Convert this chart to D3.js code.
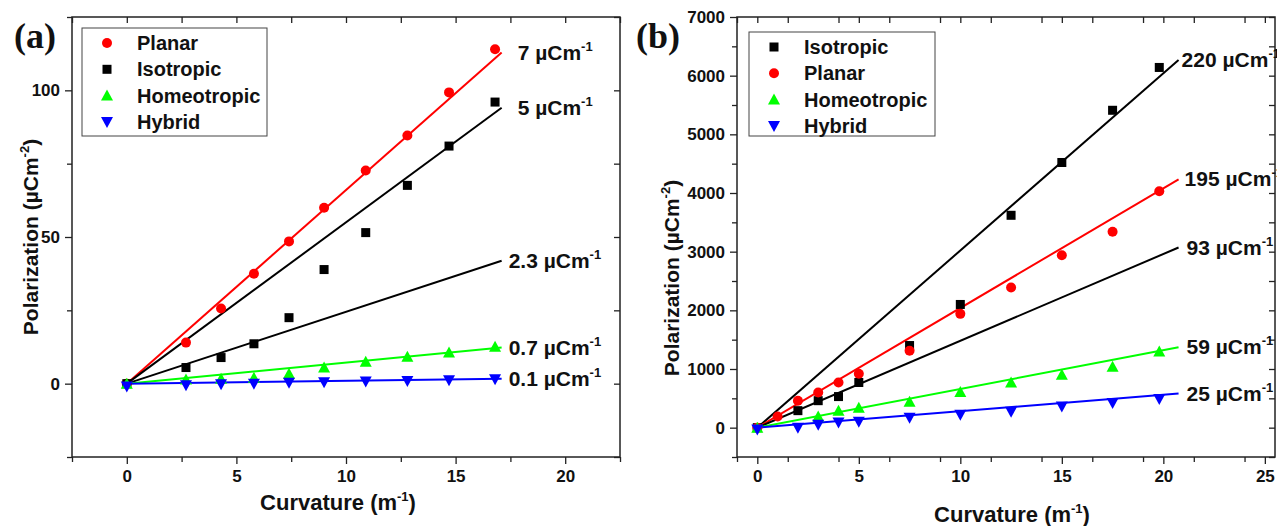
<!DOCTYPE html>
<html lang="en">
  <head>
    <title>polarization vs curvature</title>
    <meta charset="utf-8">
    <style>
      body { margin: 0; background: white; }
      text { font-family: "Liberation Sans", Arial, sans-serif; font-weight: bold; }
      .tick text { font-size: 17px; }
      .panel { font-family: "Liberation Serif", "Times New Roman", serif; font-size: 36px; }
    </style>
    <script src="https://d3js.org/d3.v7.min.js"></script>
  </head>
  <body>
    <script>

    // ---- panel (a) data ----
    var xA = [0, 2.7, 4.3, 5.8, 7.4, 9.0, 10.9, 12.8, 14.7, 16.8];
    var planarA = [0, 14, 25.6, 37.5, 48.5, 60, 72.7, 84.6, 99.3, 114];
    var isoA = [0, 5.5, 8.9, 13.6, 22.5, 38.9, 51.5, 67.6, 81, 96];
    var homeoA = [0, 1.4, 1.7, 2, 3.4, 5.5, 7.5, 9.2, 10.6, 12.6];
    var hybridA = [-1, -0.5, -0.2, 0, 0.3, 0.5, 0.7, 0.9, 1.2, 1.5];
    // fitted lines: slope, colour key, label
    var fitsA = [
      {slope: 6.6, c: "red", label: "7 \u00b5Cm"},
      {slope: 5.5, c: "black", label: "5 \u00b5Cm"},
      {slope: 2.45, c: "black", label: "2.3 \u00b5Cm"},
      {slope: 0.72, c: "lime", label: "0.7 \u00b5Cm"},
      {slope: 0.1, c: "blue", label: "0.1 \u00b5Cm"}
    ];
    var fitEndA = 17.1;
    var labelGapA = [16, 16, 7, 7, 7];

    // ---- panel (b) data ----
    var xB = [0, 1, 2, 3, 4, 5, 7.5, 10, 12.5, 15, 17.5, 19.8];
    var isoB = [0, null, 290, 460, 530, 770, 1400, 2100, 3620, 4520, 5410, 6140];
    var planarB = [0, 190, 460, 600, 770, 920, 1310, 1940, 2390, 2940, 3340, 4030];
    var homeoB = [0, null, null, 190, 290, 340, 440, 610, 770, 900, 1040, 1300];
    var hybridB = [-30, null, 0, 50, 90, 100, 170, 220, 270, 360, 420, 490];
    var fitsB = [
      {slope: 302, c: "black", label: "220 \u00b5Cm"},
      {slope: 204, c: "red", label: "195 \u00b5Cm"},
      {slope: 148, c: "black", label: "93 \u00b5Cm"},
      {slope: 66, c: "lime", label: "59 \u00b5Cm"},
      {slope: 28, c: "blue", label: "25 \u00b5Cm"}
    ];
    var fitEndB = 20.75;
    var labelGapB = [3, 6, 8, 8, 8];

    var colors = {red: "#ff0000", black: "#000000", lime: "#00ff00", blue: "#0000ff"};

    var svg = d3.select("body").append("svg")
                .attr("width", 1277)
                .attr("height", 526);

    function symbol(g, type, color, x, y) {
      if (type == "circle") {
        g.append("circle").attr("cx", x).attr("cy", y).attr("r", 5).attr("fill", color);
      } else if (type == "square") {
        g.append("rect").attr("x", x - 4.5).attr("y", y - 4.5).attr("width", 9).attr("height", 9).attr("fill", color);
      } else if (type == "up") {
        g.append("path").attr("d", "M" + x + "," + (y - 6) + "L" + (x + 6) + "," + (y + 5) + "L" + (x - 6) + "," + (y + 5) + "Z").attr("fill", color);
      } else {
        g.append("path").attr("d", "M" + x + "," + (y + 6) + "L" + (x + 6) + "," + (y - 5) + "L" + (x - 6) + "," + (y - 5) + "Z").attr("fill", color);
      }
    }

    function drawPanel(o) {
      var g = svg.append("g");
      var x = d3.scaleLinear().domain(o.xDomain).range([o.left, o.right]);
      var y = d3.scaleLinear().domain(o.yDomain).range([o.bottom, o.top]);

      // box
      g.append("rect").attr("x", o.left).attr("y", o.top)
       .attr("width", o.right - o.left).attr("height", o.bottom - o.top)
       .attr("fill", "none").attr("stroke", "#222").attr("stroke-width", 1.5);

      var xMinor = d3.range(o.xDomain[0], o.xDomain[1] + 0.01, o.xStep / 2).filter(function(v){ return Math.abs(v / o.xStep - Math.round(v / o.xStep)) > 0.01; });
      var yMinor = d3.range(o.yDomain[0], o.yDomain[1] + 0.01, o.yStep / 2).filter(function(v){ return Math.abs(v / o.yStep - Math.round(v / o.yStep)) > 0.01; });

      g.append("g").attr("transform", "translate(0," + o.bottom + ")")
                .call(d3.axisBottom(x).tickValues(o.xTicks).tickFormat(d3.format("d")).tickSize(7).tickPadding(6));
      g.append("g").attr("transform", "translate(0," + o.bottom + ")")
                .call(d3.axisBottom(x).tickValues(xMinor).tickFormat("").tickSize(5));
      g.append("g").attr("transform", "translate(0," + o.top + ")")
                .call(d3.axisBottom(x).tickValues(o.xTicks.concat(xMinor)).tickFormat("").tickSize(6));
      g.append("g").attr("transform", "translate(" + o.left + ",0)")
                .call(d3.axisLeft(y).tickValues(o.yTicks).tickFormat(d3.format("d")).tickSize(7).tickPadding(5));
      g.append("g").attr("transform", "translate(" + o.left + ",0)")
                .call(d3.axisLeft(y).tickValues(yMinor).tickFormat("").tickSize(5));
      g.append("g").attr("transform", "translate(" + o.right + ",0)")
                .call(d3.axisLeft(y).tickValues(o.yTicks.concat(yMinor)).tickFormat("").tickSize(6));
      g.selectAll(".domain").remove();
      g.selectAll(".tick line").attr("stroke", "#222").attr("stroke-width", 1.3);
      g.selectAll(".tick text").attr("fill", "#111");

      // fitted lines
      o.fits.forEach(function(f, i) {
        g.append("line")
         .attr("x1", x(0)).attr("y1", y(0))
         .attr("x2", x(o.fitEnd)).attr("y2", y(f.slope * o.fitEnd))
         .attr("stroke", colors[f.c]).attr("stroke-width", 2);
        var t = g.append("text")
         .attr("x", x(o.fitEnd) + o.gaps[i]).attr("y", y(f.slope * o.fitEnd) + 7)
         .attr("font-size", 21).attr("fill", "#111")
         .text(f.label);
        t.append("tspan").attr("dy", -9).attr("font-size", 13).text("-1");
      });

      // points
      o.series.forEach(function(s) {
        s.vals.forEach(function(v, i) {
          if (v === null) return;
          symbol(g, s.shape, colors[s.c], x(o.xs[i]), y(v));
        });
      });

      // legend
      g.append("rect").attr("x", o.leg[0]).attr("y", o.leg[1]).attr("width", o.leg[2]).attr("height", o.leg[3])
       .attr("fill", "white").attr("stroke", "#444").attr("stroke-width", 1);
      o.series.forEach(function(s, i) {
        var ly = o.leg[1] + 15 + i * 26.3;
        symbol(g, s.shape, colors[s.c], o.leg[0] + 25, ly);
        g.append("text").attr("x", o.leg[0] + 55).attr("y", ly + 7)
         .attr("font-size", 20).attr("fill", "#111").text(s.name);
      });

      // axis titles
      var xt = g.append("text").attr("x", o.xTitle[0]).attr("y", o.xTitle[1])
                .attr("text-anchor", "middle").attr("font-size", 22).attr("fill", "#111").text("Curvature (m");
      xt.append("tspan").attr("dy", -9).attr("font-size", 13).text("-1");
      xt.append("tspan").attr("dy", 9).text(")");
      var yt = g.append("text").attr("transform", "translate(" + o.yTitle[0] + "," + o.yTitle[1] + ") rotate(-90)")
                .attr("text-anchor", "middle").attr("font-size", 21).attr("fill", "#111").text("Polarization (\u00b5Cm");
      yt.append("tspan").attr("dy", -9).attr("font-size", 13).text("-2");
      yt.append("tspan").attr("dy", 9).text(")");

      g.append("text").attr("class", "panel").attr("x", o.panel[0]).attr("y", o.panel[1]).attr("fill", "#111").text(o.panel[2]);
    }

    drawPanel({
      left: 72, right: 620, top: 17, bottom: 457,
      xDomain: [-2.5, 22.5], yDomain: [-25, 125],
      xTicks: [0, 5, 10, 15, 20], yTicks: [0, 50, 100],
      xStep: 5, yStep: 50,
      xs: xA, fits: fitsA, fitEnd: fitEndA, gaps: labelGapA,
      series: [
        {name: "Planar", vals: planarA, c: "red", shape: "circle"},
        {name: "Isotropic", vals: isoA, c: "black", shape: "square"},
        {name: "Homeotropic", vals: homeoA, c: "lime", shape: "up"},
        {name: "Hybrid", vals: hybridA, c: "blue", shape: "down"}
      ],
      leg: [82, 28, 185, 108],
      xTitle: [338, 510], yTitle: [38, 237],
      panel: [14, 48, "(a)"]
    });

    drawPanel({
      left: 737, right: 1275, top: 17, bottom: 457,
      xDomain: [-1, 25.5], yDomain: [-500, 7000],
      xTicks: [0, 5, 10, 15, 20, 25], yTicks: [0, 1000, 2000, 3000, 4000, 5000, 6000, 7000],
      xStep: 5, yStep: 1000,
      xs: xB, fits: fitsB, fitEnd: fitEndB, gaps: labelGapB,
      series: [
        {name: "Isotropic", vals: isoB, c: "black", shape: "square"},
        {name: "Planar", vals: planarB, c: "red", shape: "circle"},
        {name: "Homeotropic", vals: homeoB, c: "lime", shape: "up"},
        {name: "Hybrid", vals: hybridB, c: "blue", shape: "down"}
      ],
      leg: [749, 32, 186, 104],
      xTitle: [1012, 522], yTitle: [679, 278],
      panel: [636, 48, "(b)"]
    });

    </script>
  </body>
</html>
